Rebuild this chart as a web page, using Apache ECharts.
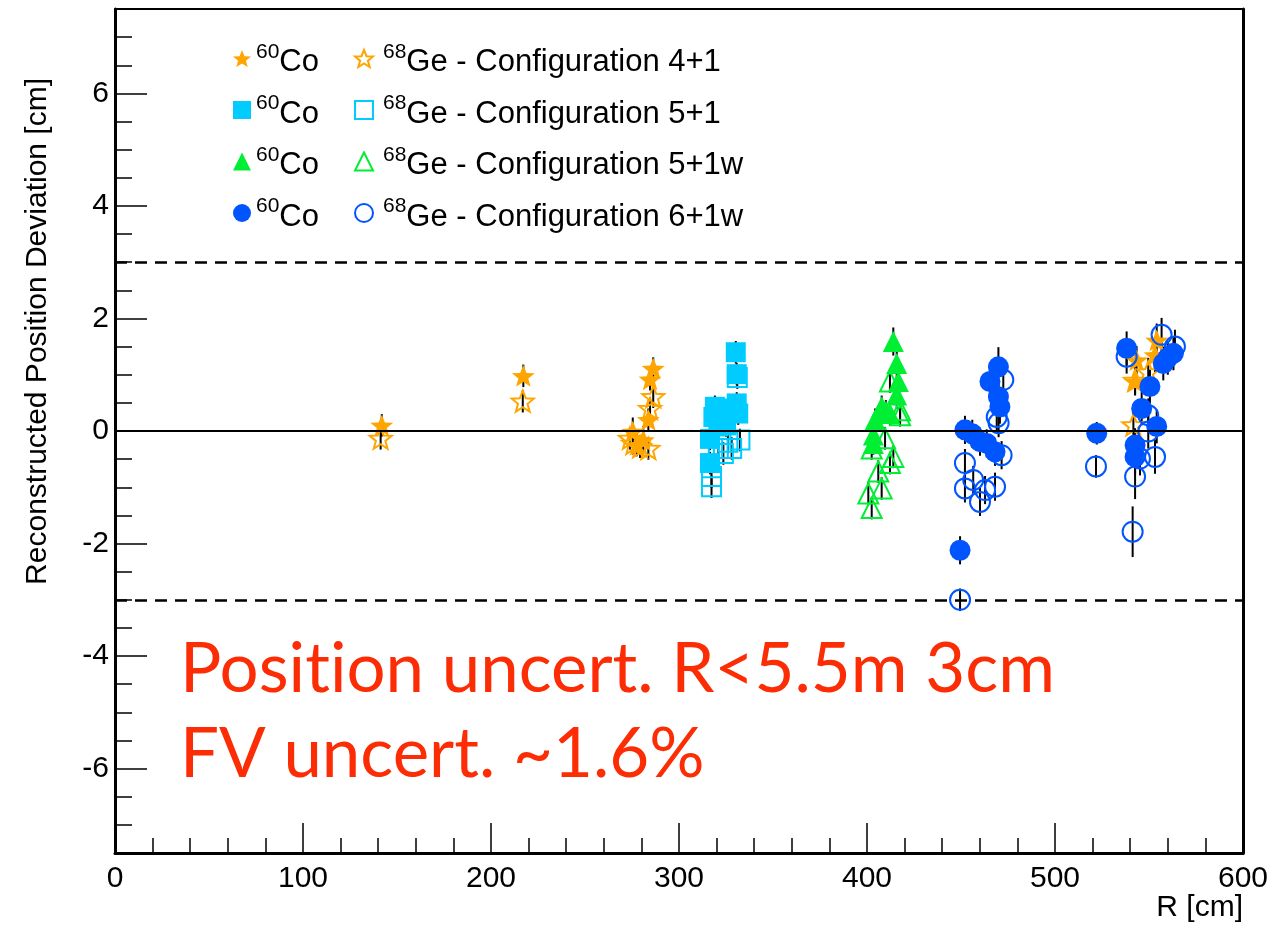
<!DOCTYPE html>
<html>
<head>
<meta charset="utf-8">
<script src="https://cdn.jsdelivr.net/npm/echarts@6/dist/echarts.min.js"></script>
<style>html,body{margin:0;padding:0;background:#fff;}#c{width:1274px;height:926px;}</style>
</head>
<body>
<div id="c"></div>
<script>
// ---- data: [R (cm), deviation (cm), error (cm)] ----
const co41 = [[141.9,0.10,0.2],[217.2,0.98,0.2],[275.4,-0.01,0.25],[281.0,-0.16,0.25],[277.5,-0.25,0.2],[283.7,0.20,0.2],[284.6,0.92,0.2],[286.3,1.11,0.2],[543.4,1.26,0.25],[542.6,0.88,0.25],[553.2,1.35,0.3],[554.1,1.61,0.3]];
const ge41 = [[141.3,-0.13,0.2],[216.9,0.53,0.2],[273.9,-0.13,0.2],[275.7,-0.22,0.2],[279.3,-0.28,0.2],[283.7,-0.31,0.2],[284.6,0.40,0.2],[286.3,0.61,0.2],[541.7,0.11,0.25],[542.6,0.90,0.25],[549.6,1.05,0.25]];
const co51 = [[330.2,1.40,0.2],[330.7,1.01,0.2],[330.7,0.49,0.2],[331.5,0.31,0.2],[319.1,0.43,0.2],[323.0,0.40,0.2],[318.3,0.25,0.2],[320.9,0.08,0.2],[316.5,-0.14,0.2],[325.0,0.10,0.2],[316.5,-0.57,0.2]];
const ge51 = [[317.3,-0.81,0.2],[317.3,-0.99,0.2],[332.4,-0.16,0.2],[323.6,-0.40,0.2],[328.0,-0.31,0.2],[320.9,-0.31,0.2],[331.0,0.95,0.2],[326.0,-0.20,0.2]];
const co51w = [[414.0,1.59,0.25],[415.8,1.20,0.25],[416.7,0.88,0.25],[415.8,0.64,0.25],[412.2,0.31,0.2],[407.8,0.43,0.2],[404.3,0.20,0.2],[403.4,-0.07,0.2],[403.4,-0.22,0.2],[410.0,0.35,0.2]];
const ge51w = [[412.2,0.88,0.2],[417.6,0.37,0.2],[417.6,0.28,0.2],[409.6,-0.13,0.2],[414.0,-0.46,0.2],[412.2,-0.57,0.2],[406.0,-0.72,0.2],[402.5,-0.31,0.2],[407.8,-1.02,0.2],[400.7,-1.11,0.2],[402.5,-1.37,0.2]];
const co61w = [[469.9,1.14,0.35],[465.4,0.88,0.3],[469.9,0.61,0.3],[470.7,0.43,0.3],[452.1,0.02,0.25],[456.0,-0.05,0.25],[460.1,-0.19,0.25],[463.7,-0.22,0.25],[468.1,-0.37,0.25],[449.5,-2.12,0.25],[522.2,-0.04,0.2],[538.1,1.47,0.3],[563.0,1.38,0.3],[557.6,1.20,0.3],[560.0,1.30,0.3],[550.5,0.79,0.3],[546.1,0.40,0.3],[554.1,0.08,0.3],[542.6,-0.25,0.3],[542.6,-0.46,0.3]];
const ge61w = [[449.5,-3.0,0.2],[452.1,-0.57,0.25],[456.5,-0.87,0.25],[452.1,-1.02,0.25],[460.1,-1.26,0.25],[462.8,-1.05,0.25],[468.1,-0.99,0.25],[471.6,-0.43,0.25],[472.5,0.91,0.25],[469.0,0.25,0.25],[470.0,0.14,0.25],[521.8,-0.63,0.2],[538.1,1.32,0.3],[556.7,1.71,0.3],[563.8,1.50,0.3],[549.6,0.28,0.3],[549.6,-0.01,0.3],[545.2,-0.49,0.3],[553.2,-0.46,0.3],[542.6,-0.81,0.4],[541.3,-1.79,0.45]];

const configNames = ['4+1','5+1','5+1w','6+1w'];
const yTickLabels = [-6,-4,-2,0,2,4,6];
const yMinorTicks = [];
const refLines = [-3, 3];

const STAR = 'path://M0,-10L2.6,-3.4L9.5,-3.1L4.1,1.3L6,8.1L0,4.2L-6,8.1L-4.1,1.3L-9.5,-3.1L-2.6,-3.4Z';
const colors = ['#ffa500','#00ccff','#00ee33','#0055ff'];
const symbols = [STAR,'rect','triangle','circle'];
const sizes = [23,20,21,21];
const coSets = [co41,co51,co51w,co61w];
const geSets = [ge41,ge51,ge51w,ge61w];

const FONT = '"Liberation Sans", Arial, Helvetica, sans-serif';
const RED_FONT = '69px Lato, "Open Sans", sans-serif';
const series = [];

// error bars
const allErr = [].concat(co41,ge41,co51,ge51,co51w,ge51w,co61w,ge61w);
series.push({
  type:'custom', name:'err', z:1, silent:true,
  data: allErr,
  renderItem: function(params, api){
    const x = api.value(0), y = api.value(1), e = api.value(2);
    const p1 = api.coord([x, y - e]); const p2 = api.coord([x, y + e]);
    return {type:'line', shape:{x1:p1[0],y1:p1[1],x2:p2[0],y2:p2[1]}, style:{stroke:'#000', lineWidth:2}};
  },
  markLine: {
    silent:true, symbol:'none', label:{show:false},
    data: [
      {yAxis:0, lineStyle:{color:'#000', width:2, type:'solid'}},
      {yAxis:refLines[0], lineStyle:{color:'#000', width:2.5, type:[12,8]}},
      {yAxis:refLines[1], lineStyle:{color:'#000', width:2.5, type:[12,8]}}
    ]
  }
});

for (let i=0;i<4;i++){
  series.push({
    type:'scatter', name:'Co '+configNames[i], z:3, data: coSets[i],
    symbol: symbols[i], symbolSize: sizes[i], symbolKeepAspect:true,
    itemStyle:{color:colors[i], opacity:1}
  });
  series.push({
    type:'scatter', name:'Ge '+configNames[i], z:3, data: geSets[i],
    symbol: symbols[i], symbolSize: sizes[i]-1, symbolKeepAspect:true,
    itemStyle:{color:'rgba(0,0,0,0)', borderColor:colors[i], borderWidth:2, opacity:1}
  });
}

for (let v=-7; v<=7.001; v+=0.5) yMinorTicks.push(v);

function legendRich(padLeft){
  return {
    sup:{fontSize:21, lineHeight:24, verticalAlign:'top', fontFamily:FONT, color:'#000', padding:[0,0,0,padLeft]},
    m:{fontSize:31, lineHeight:34, fontFamily:FONT, color:'#000', padding:[8,0,0,0]}
  };
}
const legendCommon = {
  orient:'vertical', selectedMode:false, itemWidth:18, itemHeight:18, itemGap:12.5
};

const option = {
  animation:false,
  backgroundColor:'#fff',
  grid:{left:115, right:31, top:9, bottom:73, containLabel:false, outerBoundsMode:'none'},
  xAxis:[
    {type:'value', min:0, max:600, interval:100, gridIndex:0, position:'bottom',
     axisLine:{show:true, onZero:false, lineStyle:{color:'#000', width:3}},
     axisTick:{show:true, inside:true, length:30, lineStyle:{color:'#000', width:1.5}},
     minorTick:{show:true, splitNumber:5, length:15, lineStyle:{color:'#000', width:1.5}},
     axisLabel:{fontSize:30, color:'#000', fontFamily:FONT, margin:11},
     splitLine:{show:false}, minorSplitLine:{show:false}
    },
    {type:'value', min:0, max:600, position:'top', gridIndex:0,
     axisLine:{show:true, onZero:false, lineStyle:{color:'#000', width:2}},
     axisTick:{show:false}, axisLabel:{show:false}, splitLine:{show:false}}
  ],
  yAxis:[
    {type:'value', min:-7.5, max:7.5, position:'left',
     axisLine:{show:true, onZero:false, lineStyle:{color:'#000', width:3}},
     axisTick:{show:true, inside:true, length:32, customValues:yTickLabels, lineStyle:{color:'#000', width:1.5}},
     axisLabel:{fontSize:30, color:'#000', fontFamily:FONT, margin:6, customValues:yTickLabels},
     splitLine:{show:false}},
    {type:'value', min:-7.5, max:7.5, interval:0.5, position:'left',
     axisLine:{show:false},
     axisTick:{show:true, inside:true, length:17, customValues:yMinorTicks, lineStyle:{color:'#000', width:1.5}},
     axisLabel:{show:false}, splitLine:{show:false}},
    {type:'value', min:-7.5, max:7.5, position:'right',
     axisLine:{show:true, onZero:false, lineStyle:{color:'#000', width:3}},
     axisTick:{show:false}, axisLabel:{show:false}, splitLine:{show:false}}
  ],
  legend:[
    Object.assign({}, legendCommon, {
      left:228, top:34,
      textStyle:{color:'#000', fontFamily:FONT, rich:legendRich(0)},
      data: configNames.map(n=>'Co '+n),
      formatter: function(){ return '{sup|60}{m|Co}'; }
    }),
    Object.assign({}, legendCommon, {
      left:349, top:34,
      textStyle:{color:'#000', fontFamily:FONT, rich:legendRich(5)},
      data: configNames.map(n=>'Ge '+n),
      formatter: function(name){ return '{sup|68}{m|Ge - Configuration '+name.slice(3)+'}'; }
    })
  ],
  graphic:[
    {type:'text', x:38, y:78, rotation:Math.PI/2, silent:true,
     style:{text:'Reconstructed Position Deviation [cm]', fill:'#000', font:'30px '+FONT, textAlign:'right', textVerticalAlign:'middle'}},
    {type:'text', x:1243, y:908, silent:true,
     style:{text:'R [cm]', fill:'#000', font:'30px '+FONT, textAlign:'right', textVerticalAlign:'middle'}},
    {type:'text', left:180, top:635, silent:true,
     style:{text:'Posit\u200Cion uncert. R<5.5m 3cm', fill:'#fc2c05', font:RED_FONT}},
    {type:'text', left:180, top:720, silent:true,
     style:{text:'FV uncert. ~1.6%', fill:'#fc2c05', font:RED_FONT}}
  ],
  series: series
};

const chart = echarts.init(document.getElementById('c'), null, {renderer:'canvas'});
chart.setOption(option);
</script>
</body>
</html>
